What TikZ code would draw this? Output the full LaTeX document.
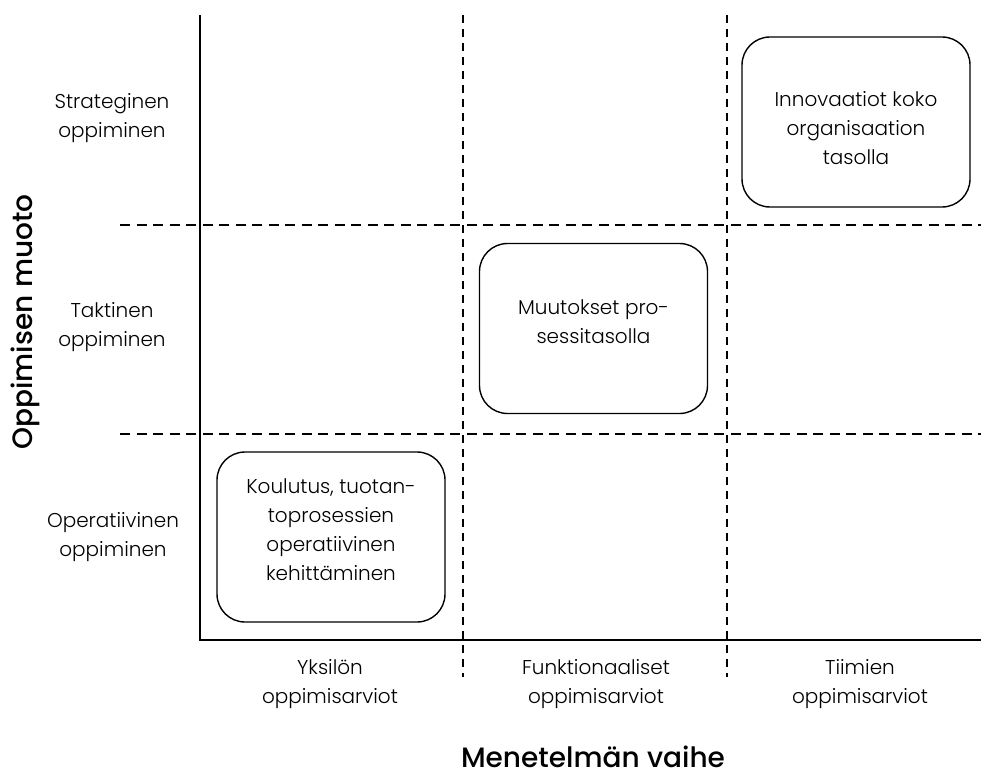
\documentclass[tikz,border=0pt]{standalone}
\usepackage{fontspec}
\newfontfamily\labelfont{Poppins Light}
\newfontfamily\titlefont{Poppins Medium}
\begin{document}
\begin{tikzpicture}[x=1pt,y=-1pt,
  axisline/.style={line width=1.8pt},
  hgrid/.style={line width=1.3pt,dash pattern=on 10pt off 6.5pt},
  vgrid/.style={line width=1.3pt,dash pattern=on 8pt off 6pt},
  cellbox/.style={draw,line width=1.4pt,rounded corners=28pt,
    minimum width=228pt,minimum height=170pt},
  lbl/.style={align=center,font=\labelfont\fontsize{20}{29}\selectfont},
  axistitle/.style={font=\titlefont\fontsize{28}{32}\selectfont}]
\useasboundingbox (0,0) rectangle (981,778);

% grid corners and ends
\coordinate (ytop) at (200,15);
\coordinate (origin) at (200,640);
\coordinate (xend) at (981,640);
\coordinate (v1t) at (463,15);
\coordinate (v1b) at (463,677);
\coordinate (v2t) at (727,15);
\coordinate (v2b) at (727,677);
\coordinate (h1l) at (120,225);
\coordinate (h1r) at (981,225);
\coordinate (h2l) at (120,434);
\coordinate (h2r) at (981,434);

% dashed separators
\draw[vgrid] (v1t) -- (v1b);
\draw[vgrid] (v2t) -- (v2b);
\draw[hgrid] (h1l) -- (h1r);
\draw[hgrid] (h2l) -- (h2r);

% axes
\draw[axisline] (ytop) -- (origin) -- (xend);

% row labels
\node[lbl] (strat) at (112,118) {Strateginen\\oppiminen};
\node[lbl] (takt) at (112,327) {Taktinen\\oppiminen};
\node[lbl] (oper) at (113,537) {Operatiivinen\\oppiminen};

% column labels
\node[lbl] (yks) at (330,684) {Yksilön\\oppimisarviot};
\node[lbl] (funk) at (596,684) {Funktionaaliset\\oppimisarviot};
\node[lbl] (tiim) at (860,684) {Tiimien\\oppimisarviot};

% rounded boxes and their texts
\node[cellbox] (innov) at (856,122) {};
\node[lbl] (innovtxt) at (856,128.5) {Innovaatiot koko\\organisaation\\tasolla};
\node[cellbox] (muut) at (593.5,328.5) {};
\node[lbl] (muuttxt) at (593.5,321.5) {Muutokset pro-\\sessitasolla};
\node[cellbox] (koul) at (331,537) {};
\node[lbl] (koultxt) at (331,529.5) {Koulutus, tuotan-\\toprosessien\\operatiivinen\\kehittäminen};

% axis titles
\node[axistitle] (xtitle) at (593,757) {Menetelmän vaihe};
\node[axistitle,rotate=90] (ytitle) at (25,322) {Oppimisen muoto};
\end{tikzpicture}
\end{document}
